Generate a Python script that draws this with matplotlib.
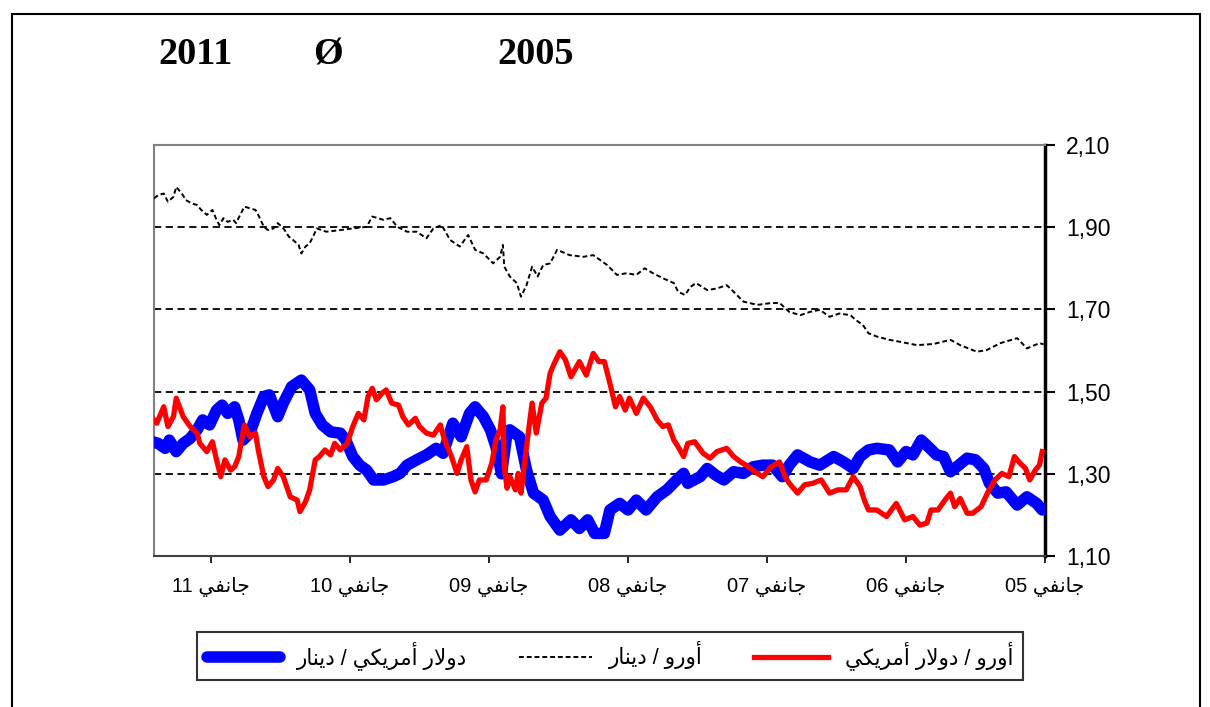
import matplotlib
matplotlib.use('Agg')
import matplotlib.pyplot as plt
from matplotlib.patches import Rectangle
from matplotlib.ticker import FuncFormatter

# ---- data (decimal years, rates) ----
t_eur_tnd = [2011.41, 2011.38, 2011.34, 2011.31, 2011.27, 2011.25, 2011.21, 2011.18, 2011.14, 2011.10,
             2011.07, 2011.03, 2010.99, 2010.96, 2010.94, 2010.91, 2010.88, 2010.84, 2010.82, 2010.79,
             2010.76, 2010.72, 2010.68, 2010.66, 2010.62, 2010.59, 2010.55, 2010.52, 2010.49, 2010.47,
             2010.44, 2010.41, 2010.37, 2010.35, 2010.32, 2010.29, 2010.26, 2010.24, 2010.17, 2010.07,
             2009.98, 2009.88, 2009.84, 2009.76, 2009.71, 2009.66, 2009.59, 2009.52, 2009.45, 2009.40,
             2009.34, 2009.28, 2009.21, 2009.15, 2009.10, 2009.04, 2008.97, 2008.92, 2008.90, 2008.89,
             2008.85, 2008.80, 2008.77, 2008.73, 2008.69, 2008.65, 2008.61, 2008.56, 2008.51, 2008.42,
             2008.32, 2008.25, 2008.15, 2008.08, 2008.01, 2007.94, 2007.88, 2007.82, 2007.75, 2007.67,
             2007.64, 2007.59, 2007.55, 2007.51, 2007.43, 2007.36, 2007.29, 2007.24, 2007.17, 2007.07,
             2006.98, 2006.91, 2006.84, 2006.76, 2006.69, 2006.62, 2006.55, 2006.48, 2006.40, 2006.36,
             2006.31, 2006.27, 2006.21, 2006.12, 2006.04, 2005.92, 2005.80, 2005.68, 2005.61, 2005.49,
             2005.42, 2005.32, 2005.20, 2005.13, 2005.04, 2005.01]
eur_tnd = [1.970, 1.978, 1.982, 1.962, 1.974, 1.998, 1.982, 1.966, 1.958, 1.954,
           1.942, 1.930, 1.942, 1.918, 1.905, 1.922, 1.913, 1.918, 1.910, 1.930,
           1.950, 1.946, 1.942, 1.930, 1.901, 1.893, 1.897, 1.910, 1.901, 1.893,
           1.877, 1.869, 1.857, 1.836, 1.853, 1.861, 1.881, 1.897, 1.889, 1.893,
           1.897, 1.901, 1.926, 1.918, 1.922, 1.901, 1.889, 1.889, 1.873, 1.897,
           1.905, 1.869, 1.853, 1.881, 1.845, 1.836, 1.812, 1.828, 1.857, 1.804,
           1.780, 1.764, 1.731, 1.759, 1.804, 1.780, 1.808, 1.812, 1.845, 1.832,
           1.828, 1.832, 1.808, 1.784, 1.788, 1.784, 1.800, 1.788, 1.776, 1.764,
           1.743, 1.735, 1.755, 1.764, 1.747, 1.751, 1.759, 1.743, 1.719, 1.711,
           1.715, 1.716, 1.694, 1.686, 1.694, 1.699, 1.682, 1.690, 1.686, 1.674,
           1.662, 1.642, 1.634, 1.626, 1.621, 1.613, 1.616, 1.626, 1.613, 1.597,
           1.601, 1.618, 1.630, 1.605, 1.618, 1.615]

t_usd_tnd = [2011.42, 2011.38, 2011.33, 2011.30, 2011.25, 2011.20, 2011.15, 2011.10, 2011.06, 2011.01,
             2010.96, 2010.92, 2010.88, 2010.83, 2010.80, 2010.77, 2010.72, 2010.67, 2010.62, 2010.58,
             2010.52, 2010.48, 2010.42, 2010.35, 2010.29, 2010.25, 2010.20, 2010.14, 2010.07, 2010.03,
             2009.98, 2009.93, 2009.88, 2009.83, 2009.76, 2009.69, 2009.64, 2009.59, 2009.52, 2009.45,
             2009.38, 2009.33, 2009.26, 2009.20, 2009.14, 2009.10, 2009.04, 2008.99, 2008.95, 2008.91,
             2008.87, 2008.85, 2008.78, 2008.73, 2008.68, 2008.61, 2008.56, 2008.49, 2008.41, 2008.35,
             2008.29, 2008.24, 2008.17, 2008.13, 2008.06, 2008.00, 2007.94, 2007.87, 2007.79, 2007.72,
             2007.65, 2007.60, 2007.57, 2007.48, 2007.43, 2007.37, 2007.31, 2007.24, 2007.17, 2007.10,
             2007.03, 2006.96, 2006.89, 2006.84, 2006.78, 2006.69, 2006.62, 2006.52, 2006.45, 2006.38,
             2006.33, 2006.27, 2006.21, 2006.12, 2006.06, 2006.00, 2005.95, 2005.89, 2005.84, 2005.78,
             2005.73, 2005.68, 2005.62, 2005.56, 2005.50, 2005.44, 2005.40, 2005.34, 2005.28, 2005.20,
             2005.13, 2005.06, 2005.02]
usd_tnd = [1.378, 1.374, 1.362, 1.382, 1.354, 1.374, 1.386, 1.407, 1.431, 1.419,
           1.455, 1.467, 1.447, 1.463, 1.431, 1.382, 1.399, 1.447, 1.488, 1.492,
           1.439, 1.472, 1.512, 1.528, 1.504, 1.447, 1.419, 1.402, 1.399, 1.382,
           1.342, 1.321, 1.309, 1.285, 1.285, 1.293, 1.301, 1.321, 1.334, 1.346,
           1.362, 1.350, 1.423, 1.390, 1.447, 1.463, 1.439, 1.407, 1.366, 1.300,
           1.399, 1.407, 1.390, 1.309, 1.253, 1.236, 1.196, 1.163, 1.188, 1.167,
           1.188, 1.155, 1.155, 1.212, 1.228, 1.212, 1.236, 1.212, 1.244, 1.261,
           1.285, 1.301, 1.277, 1.293, 1.313, 1.297, 1.285, 1.305, 1.301, 1.317,
           1.321, 1.321, 1.293, 1.321, 1.346, 1.329, 1.321, 1.342, 1.329, 1.313,
           1.342, 1.358, 1.362, 1.358, 1.329, 1.354, 1.346, 1.382, 1.366, 1.346,
           1.342, 1.305, 1.321, 1.338, 1.334, 1.313, 1.277, 1.253, 1.256, 1.224,
           1.244, 1.228, 1.212]

t_eur_usd = [2011.42, 2011.39, 2011.34, 2011.31, 2011.27, 2011.25, 2011.20, 2011.15, 2011.10, 2011.08,
             2011.03, 2010.99, 2010.96, 2010.93, 2010.90, 2010.86, 2010.83, 2010.80, 2010.78, 2010.76,
             2010.72, 2010.68, 2010.66, 2010.62, 2010.59, 2010.55, 2010.52, 2010.48, 2010.43, 2010.38,
             2010.36, 2010.32, 2010.29, 2010.25, 2010.22, 2010.18, 2010.14, 2010.11, 2010.07, 2010.02,
             2009.98, 2009.94, 2009.90, 2009.87, 2009.84, 2009.81, 2009.77, 2009.74, 2009.70, 2009.65,
             2009.62, 2009.58, 2009.53, 2009.50, 2009.45, 2009.40, 2009.35, 2009.32, 2009.27, 2009.23,
             2009.20, 2009.16, 2009.13, 2009.10, 2009.07, 2009.02, 2008.98, 2008.95, 2008.92, 2008.90,
             2008.89, 2008.87, 2008.85, 2008.81, 2008.79, 2008.77, 2008.73, 2008.69, 2008.66, 2008.62,
             2008.59, 2008.56, 2008.53, 2008.49, 2008.45, 2008.41, 2008.37, 2008.35, 2008.30, 2008.25,
             2008.21, 2008.17, 2008.13, 2008.09, 2008.06, 2008.02, 2007.99, 2007.94, 2007.89, 2007.84,
             2007.79, 2007.75, 2007.71, 2007.67, 2007.64, 2007.60, 2007.57, 2007.52, 2007.46, 2007.41,
             2007.36, 2007.29, 2007.24, 2007.19, 2007.15, 2007.07, 2007.03, 2006.97, 2006.91, 2006.87,
             2006.84, 2006.78, 2006.73, 2006.67, 2006.61, 2006.55, 2006.49, 2006.43, 2006.38, 2006.33,
             2006.30, 2006.27, 2006.21, 2006.14, 2006.07, 2006.01, 2005.95, 2005.90, 2005.85, 2005.82,
             2005.77, 2005.72, 2005.68, 2005.65, 2005.61, 2005.56, 2005.52, 2005.46, 2005.41, 2005.36,
             2005.31, 2005.26, 2005.22, 2005.18, 2005.14, 2005.11, 2005.07, 2005.04, 2005.02]
eur_usd = [1.435, 1.423, 1.463, 1.415, 1.439, 1.484, 1.439, 1.415, 1.399, 1.374,
           1.354, 1.378, 1.334, 1.293, 1.334, 1.309, 1.317, 1.342, 1.382, 1.419,
           1.390, 1.399, 1.358, 1.293, 1.269, 1.285, 1.313, 1.293, 1.244, 1.236,
           1.208, 1.232, 1.261, 1.334, 1.342, 1.358, 1.346, 1.374, 1.358, 1.374,
           1.415, 1.447, 1.431, 1.488, 1.508, 1.480, 1.496, 1.504, 1.472, 1.467,
           1.439, 1.419, 1.435, 1.415, 1.399, 1.394, 1.419, 1.382, 1.342, 1.301,
           1.334, 1.366, 1.285, 1.256, 1.285, 1.285, 1.326, 1.382, 1.407, 1.463,
           1.317, 1.265, 1.293, 1.261, 1.301, 1.253, 1.366, 1.472, 1.399, 1.472,
           1.484, 1.545, 1.569, 1.597, 1.577, 1.536, 1.561, 1.573, 1.540, 1.593,
           1.573, 1.573, 1.520, 1.463, 1.488, 1.455, 1.484, 1.447, 1.484, 1.463,
           1.431, 1.415, 1.419, 1.382, 1.366, 1.342, 1.374, 1.378, 1.350, 1.338,
           1.354, 1.362, 1.342, 1.329, 1.321, 1.301, 1.293, 1.317, 1.329, 1.293,
           1.277, 1.253, 1.273, 1.277, 1.285, 1.253, 1.261, 1.261, 1.293, 1.269,
           1.236, 1.212, 1.212, 1.196, 1.228, 1.188, 1.196, 1.175, 1.180, 1.212,
           1.212, 1.236, 1.253, 1.220, 1.240, 1.204, 1.204, 1.220, 1.256, 1.285,
           1.301, 1.293, 1.342, 1.326, 1.313, 1.285, 1.309, 1.321, 1.354]

year_ticks = [2005, 2006, 2007, 2008, 2009, 2010, 2011]
year_labels = ['05', '06', '07', '08', '09', '10', '11']
y_ticks = [1.10, 1.30, 1.50, 1.70, 1.90, 2.10]
month_word = 'جانفي'
label_usd_tnd = 'دولار أمريكي / دينار'
label_eur_tnd = 'أورو / دينار'
label_eur_usd = 'أورو / دولار أمريكي'

# ---- minimal arabic shaping (matplotlib has no bidi/shaping) ----
FORMS = {
    'ا': ('\ufe8d', '\ufe8e', None, None),
    'أ': ('\ufe83', '\ufe84', None, None),
    'ج': ('\ufe9d', '\ufe9e', '\ufe9f', '\ufea0'),
    'د': ('\ufea9', '\ufeaa', None, None),
    'ر': ('\ufead', '\ufeae', None, None),
    'ف': ('\ufed1', '\ufed2', '\ufed3', '\ufed4'),
    'ك': ('\ufed9', '\ufeda', '\ufedb', '\ufedc'),
    'ل': ('\ufedd', '\ufede', '\ufedf', '\ufee0'),
    'م': ('\ufee1', '\ufee2', '\ufee3', '\ufee4'),
    'ن': ('\ufee5', '\ufee6', '\ufee7', '\ufee8'),
    'و': ('\ufeed', '\ufeee', None, None),
    'ي': ('\ufef1', '\ufef2', '\ufef3', '\ufef4'),
    'لا': ('\ufefb', '\ufefc', None, None),
    'لأ': ('\ufef7', '\ufef8', None, None),
}


def shape(s):
    toks = []
    i = 0
    while i < len(s):
        if s[i:i + 2] in FORMS:
            toks.append(s[i:i + 2])
            i += 2
        else:
            toks.append(s[i])
            i += 1
    out = []
    for k, t in enumerate(toks):
        f = FORMS.get(t)
        if f is None:
            out.append(t)
            continue
        prev = toks[k - 1] if k > 0 else None
        nxt = toks[k + 1] if k + 1 < len(toks) else None
        jp = prev in FORMS and FORMS[prev][2] is not None
        jn = f[2] is not None and nxt in FORMS
        if jp and jn:
            out.append(f[3])
        elif jp:
            out.append(f[1])
        elif jn:
            out.append(f[2])
        else:
            out.append(f[0])
    return ''.join(out)


def rtl(s):
    # visual order for pure arabic text
    return shape(s)[::-1]


plt.rcParams['font.family'] = ['Liberation Sans', 'DejaVu Sans']

fig = plt.figure(figsize=(12.1, 7.07), dpi=100)
ax = fig.add_axes([154 / 1210, 151 / 707, 891 / 1210, 411 / 707])

ax.plot(t_usd_tnd, usd_tnd, color='#0000ff', lw=8.3, solid_capstyle='round',
        solid_joinstyle='round', label=rtl(label_usd_tnd), zorder=3)
ax.plot(t_eur_tnd, eur_tnd, color='black', lw=1.4, ls=(0, (2.5, 1.5)),
        label=rtl(label_eur_tnd), zorder=4)
ax.plot(t_eur_usd, eur_usd, color='#ff0000', lw=3.8, solid_joinstyle='round',
        label=rtl(label_eur_usd), zorder=5)

for g in y_ticks[1:-1]:
    ax.axhline(g, color='black', lw=1.3, ls=(0, (4, 2.5)), zorder=1)

ax.set_xlim(2011.41, 2005.0)
ax.set_ylim(y_ticks[0], y_ticks[-1])

ax.set_xticks(year_ticks)
ax.set_xticklabels([y + ' ' + rtl(month_word) for y in year_labels], fontsize=14.5)
ax.set_yticks(y_ticks)
ax.yaxis.set_major_formatter(FuncFormatter(lambda v, p: f'{v:.2f}'.replace('.', ',')))
ax.yaxis.tick_right()
ax.tick_params(axis='y', direction='out', length=7, width=1.5, pad=8, labelsize=16.5)
ax.tick_params(axis='x', direction='out', length=5, width=1.2, pad=10)

for side in ['left', 'top']:
    ax.spines[side].set_color('#808080')
    ax.spines[side].set_linewidth(1.5)
ax.spines['bottom'].set_color('#404040')
ax.spines['bottom'].set_linewidth(1.5)
ax.spines['right'].set_color('black')
ax.spines['right'].set_linewidth(2.5)

# title pieces
for xp, txt in [(158, '2011'), (313, 'Ø'), (497, '2005')]:
    fig.text(xp / 1210, 1 - 55 / 707, txt, family='Liberation Serif', weight='bold',
             fontsize=27.5, ha='left', va='center')

leg = fig.legend(loc='lower left', bbox_to_anchor=(197 / 1210, 1 - 680 / 707, 826 / 1210, 48 / 707),
                 bbox_transform=fig.transFigure, mode='expand', ncol=3, fontsize=15.5,
                 handlelength=3.4, frameon=True, fancybox=False, borderpad=0.45,
                 borderaxespad=0)
leg.get_frame().set_edgecolor('black')
leg.get_frame().set_linewidth(1.5)

# outer frame of the chart object
fig.add_artist(Rectangle((12 / 1210, -0.05), 1188 / 1210, 1.05 - 14 / 707, transform=fig.transFigure,
                         fill=False, ec='black', lw=1.5))

fig.savefig('out.png', dpi=100)
